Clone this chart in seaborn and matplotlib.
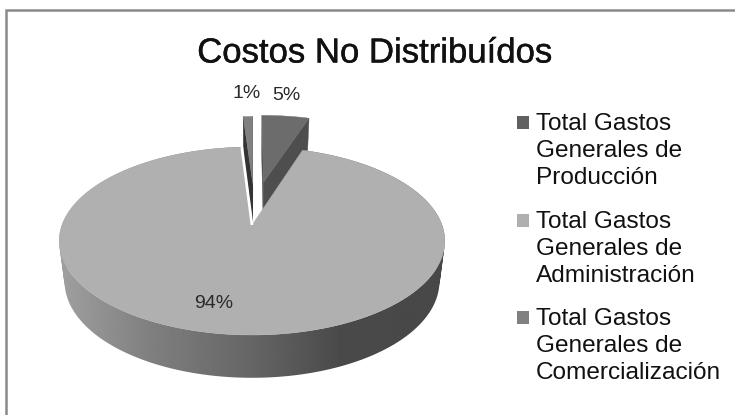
import numpy as np
import matplotlib
matplotlib.use("Agg")
import matplotlib.pyplot as plt
import seaborn as sns
import matplotlib.patheffects as pe
from matplotlib.path import Path
from matplotlib.patches import Polygon, Rectangle

title = "Costos No Distribuídos"
categories = ["Total Gastos\nGenerales de\nProducción",
              "Total Gastos\nGenerales de\nAdministración",
              "Total Gastos\nGenerales de\nComercialización"]
shares = [5, 94, 1]

top_colors = ["#6c6c6c", "#b0b0b0", "#808080"]
cut_colors = ["#4e4e4e", "#b0b0b0", "#333333"]
swatch_colors = ["#606060", "#b0b0b0", "#808080"]
slice_explode = [0.515, 0.0, 0.49]
slice_nudge = [-0.015, 0.0, 0.02]

sns.set_theme(style="white")
plt.rcParams["font.family"] = ["Liberation Sans", "DejaVu Sans"]

fig = plt.figure(figsize=(7.35, 4.15), dpi=100)
ax = fig.add_axes([0, 0, 1, 1])

# The pie call supplies each slice's angles and exploded centre.
wedges, _ = ax.pie(shares, explode=slice_explode, startangle=90, counterclock=False)
geometry = [((w.center[0] + n, w.center[1]), np.radians(w.theta1), np.radians(w.theta2))
            for w, n in zip(wedges, slice_nudge)]
for w in wedges:
    w.remove()

CX, CY, RX, RY, K = 252.0, 225.0, 190.0, 91.3, 0.17


def project(u, v, lower=False):
    """Map disc coordinates to the tilted view, optionally on the underside."""
    u, v = np.asarray(u, float), np.asarray(v, float)
    d = 1 + K * v
    x = u / d * RX
    y = -v / d * RY
    if lower:
        x = x * 0.972
        y = y * 0.985 + 40.0 / (1 + 0.1 * v)
    return np.column_stack([CX + x, CY + y])


def rim(center, a, b, n=240):
    t = np.linspace(a, b, n)
    return center[0] + np.cos(t), center[1] + np.sin(t)


def side_faces(center, a, b, color, zorder):
    cu, cv = center
    for t in (a, b):
        u = np.array([cu, cu + np.cos(t)])
        v = np.array([cv, cv + np.sin(t)])
        pts = np.vstack([project(u, v), project(u, v, True)[::-1]])
        ax.add_patch(Polygon(pts, closed=True, fc=color, ec=color, lw=0.3, zorder=zorder))


def oriented_quad(p0, p1, p2, p3):
    """Closed quad with counter-clockwise winding, so a compound of them fills as a union."""
    q = np.vstack([p0, p1, p2, p3])
    area = np.sum(q[:, 0] * np.roll(q[:, 1], -1) - np.roll(q[:, 0], -1) * q[:, 1])
    if area < 0:
        q = q[::-1]
    return Path(np.vstack([q, q[0]]), closed=True)


# Exploded small slices sit behind the large slice.
for i in (0, 2):
    center, a, b = geometry[i]
    u, v = rim(center, a, b, 40)
    side_faces(center, a, b, cut_colors[i], 2)
    top = project(np.r_[center[0], u], np.r_[center[1], v])
    ax.add_patch(Polygon(top, closed=True, fc=top_colors[i], ec=top_colors[i], lw=0.3, zorder=3))

# Outer wall of the large slice, shaded from left to right.
center, a, b = geometry[1]
u, v = rim(center, a, b, 360)
upper, lower = project(u, v), project(u, v, True)
wall = Path.make_compound_path(*[
    oriented_quad(upper[j], upper[j + 1], lower[j + 1], lower[j]) for j in range(len(u) - 1)
])
xs = np.arange(40, 470)
shade = np.interp(xs, [58, 150, 250, 340, 450], [0.63, 0.50, 0.40, 0.29, 0.28])[None, :]
img = ax.imshow(shade, cmap="gray", vmin=0, vmax=1, aspect="auto",
                extent=(40, 470, 400, 140), zorder=4, interpolation="bilinear")
img.set_clip_path(wall, transform=ax.transData)

top = project(np.r_[center[0], u], np.r_[center[1], v])
ax.add_patch(Polygon(top, closed=True, fc=top_colors[1], ec=top_colors[1], lw=0.3, zorder=5))
# White seam along the slice's left cut.
ax.plot(top[[0, 1], 0], top[[0, 1], 1], color="white", lw=2.0, zorder=6, solid_capstyle="butt")

ax.set_aspect("auto")
ax.set_xlim(0, 735)
ax.set_ylim(415, 0)
ax.axis("off")

label_pos = [(286, 95), (214, 303), (247, 93)]
for share, (x, y) in zip(shares, label_pos):
    ax.text(x, y, f"{share}%", ha="center", va="center", fontsize=14, color="#2a2a2a", zorder=7)

ax.text(375, 53, title, ha="center", va="center", fontsize=25, color="#111111",
        path_effects=[pe.withStroke(linewidth=0.3, foreground="#111111")])

legend_tops = [122, 220, 317]
for name, color, y in zip(categories, swatch_colors, legend_tops):
    ax.add_patch(Rectangle((517, y - 6), 12, 13, fc=color, ec="none"))
    ax.text(536, y - 9.5, name, ha="left", va="top", fontsize=17.6, linespacing=1.3, color="#111111")

# Chart frame: only its top and left edges fall inside the canvas.
ax.plot([6, 6, 735], [415, 10, 10], color="#8a8a8a", lw=1.8, solid_joinstyle="miter")

fig.savefig("out.png", dpi=100, facecolor="white")
